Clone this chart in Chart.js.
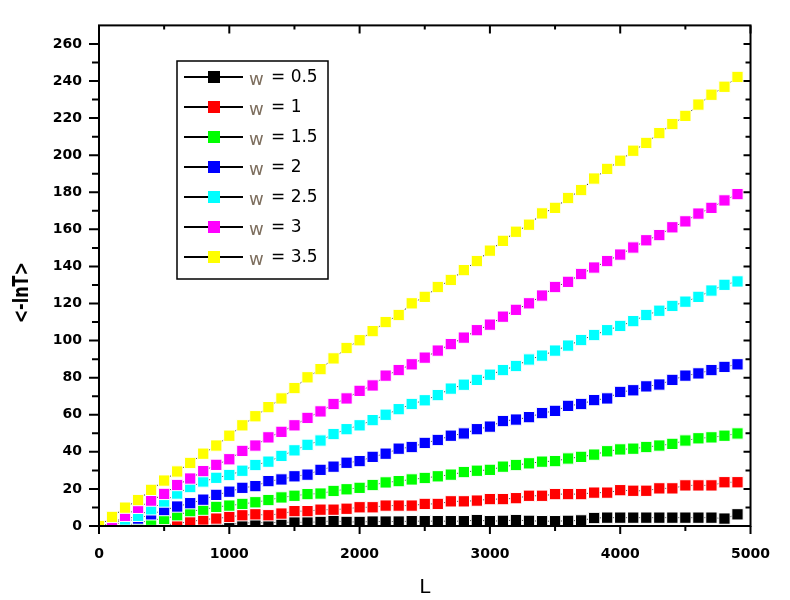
<!DOCTYPE html>
<html>
<head>
<meta charset="utf-8">
<script src="https://cdn.jsdelivr.net/npm/chart.js@4.4.0/dist/chart.umd.min.js"></script>
<style>
  html, body { margin: 0; padding: 0; background: #fff; }
  #wrap { width: 790px; height: 600px; }
</style>
</head>
<body>
<div id="wrap"><canvas id="lnT" width="790" height="600"></canvas></div>
<script>
// system size L
var L = [0, 100, 200, 300, 400, 500, 600, 700, 800, 900,
         1000, 1100, 1200, 1300, 1400, 1500, 1600, 1700, 1800, 1900,
         2000, 2100, 2200, 2300, 2400, 2500, 2600, 2700, 2800, 2900,
         3000, 3100, 3200, 3300, 3400, 3500, 3600, 3700, 3800, 3900,
         4000, 4100, 4200, 4300, 4400, 4500, 4600, 4700, 4800, 4900];

// <-lnT> for each disorder strength w
var w05 = [0, 0, 0, 0, 0, 0, 0, 0, 0, 0.3,
           0.8, 1.6, 1.8, 1.8, 2.0, 2.0, 2.0, 2.2, 2.8, 2.2,
           2.2, 2.4, 2.4, 2.4, 2.6, 2.6, 2.6, 2.6, 2.6, 3.2,
           2.6, 2.8, 3.2, 2.8, 2.6, 2.6, 2.8, 3.0, 4.3, 4.5,
           4.5, 4.5, 4.5, 4.5, 4.5, 4.5, 4.5, 4.5, 4.0, 6.3];
var w1 = [0, 0, 0, 0, 0, 0.5, 1.4, 2.3, 3.5, 4.0,
          4.9, 5.8, 6.3, 5.8, 6.7, 8.0, 8.0, 8.8, 8.8, 9.3,
          10.1, 10.1, 11.0, 11.0, 11.0, 11.9, 11.9, 13.3, 13.3, 13.7,
          14.5, 14.5, 15.0, 16.3, 16.3, 17.2, 17.2, 17.2, 18.0, 18.0,
          19.3, 19.0, 19.0, 20.3, 20.3, 21.9, 21.9, 21.9, 23.6, 23.6];
var w15 = [0, 0, 0.5, 1.4, 3.4, 3.8, 5.8, 8.0, 8.8, 10.3,
           11.0, 11.9, 12.8, 14.0, 15.4, 16.3, 17.2, 17.5, 18.9, 19.8,
           20.6, 22.1, 23.5, 24.2, 25.1, 25.9, 26.8, 27.7, 29.1, 29.8,
           30.3, 32.0, 32.9, 33.8, 34.7, 35.0, 36.4, 37.3, 38.5, 40.3,
           41.3, 41.7, 42.6, 43.4, 44.3, 46.1, 47.3, 47.8, 48.7, 49.9];
var w2 = [0, 0.5, 2.4, 4.0, 6.3, 8.6, 10.5, 12.3, 14.2, 16.8,
          18.5, 20.6, 21.5, 24.2, 25.1, 26.8, 27.7, 30.3, 32.0, 34.1,
          35.0, 37.3, 39.0, 41.7, 42.6, 44.8, 46.4, 48.7, 49.9, 52.2,
          53.6, 56.6, 57.4, 58.7, 60.9, 62.1, 64.8, 65.8, 67.9, 68.8,
          72.3, 73.2, 75.3, 76.3, 78.8, 81.1, 82.3, 84.1, 85.8, 87.2];
var w25 = [0, 1.5, 3.5, 5.5, 9.0, 13.2, 17.5, 21.0, 24.0, 26.0,
           27.5, 29.8, 32.9, 34.7, 37.8, 40.8, 43.8, 46.1, 49.6, 52.2,
           54.3, 57.1, 60.0, 63.0, 65.8, 67.8, 70.6, 74.1, 76.2, 78.8,
           81.6, 84.1, 86.3, 89.8, 91.9, 94.6, 97.3, 100.3, 103.0, 105.6,
           107.9, 110.5, 113.8, 116.1, 118.7, 121.0, 123.6, 127.0, 130.1, 131.9];
var w3 = [0, 1.0, 5.5, 9.8, 13.7, 17.3, 22.1, 25.6, 29.6, 33.0,
          36.0, 40.5, 43.4, 47.8, 50.8, 54.3, 58.3, 61.8, 65.8, 68.8,
          72.9, 75.8, 81.1, 84.1, 87.2, 90.8, 94.6, 98.1, 101.6, 105.6,
          108.6, 112.9, 116.6, 120.1, 124.3, 128.9, 131.7, 135.9, 139.4, 142.9,
          146.4, 150.2, 154.1, 156.9, 161.1, 164.3, 168.5, 171.6, 175.6, 179.0];
var w35 = [0, 4.9, 9.9, 14.0, 19.5, 24.5, 29.4, 34.0, 39.0, 43.4,
           48.7, 54.3, 59.2, 64.1, 68.8, 74.4, 80.2, 84.6, 90.4, 96.0,
           100.2, 105.1, 110.0, 113.8, 120.1, 123.6, 128.9, 132.7, 138.0, 142.9,
           148.5, 153.8, 158.7, 162.5, 168.6, 171.6, 176.9, 181.2, 187.4, 192.6,
           197.0, 202.4, 206.6, 211.9, 216.8, 221.2, 227.3, 232.6, 236.9, 242.2];

var seriesLabels = ['w = 0.5', 'w = 1', 'w = 1.5', 'w = 2', 'w = 2.5', 'w = 3', 'w = 3.5'];
var seriesValues = [w05, w1, w15, w2, w25, w3, w35];
var seriesColors = ['#000000', '#ff0000', '#00ff00', '#0000ff', '#00ffff', '#ff00ff', '#ffff00'];

var xTickValues = [0, 1000, 2000, 3000, 4000, 5000];
var yTickValues = [0, 20, 40, 60, 80, 100, 120, 140, 160, 180, 200, 220, 240, 260];

var tickFont = { family: '"DejaVu Sans"', size: 14, weight: 'bold' };

var datasets = seriesValues.map(function (vals, i) {
  return {
    label: seriesLabels[i],
    data: L.map(function (x, k) { return { x: x, y: vals[k] }; }),
    borderColor: '#000',
    borderWidth: 1,
    pointStyle: 'rect',
    pointRadius: 8,
    pointBackgroundColor: seriesColors[i],
    pointBorderColor: '#fff',
    pointBorderWidth: 1,
    clip: 0,
    order: seriesValues.length - i   // higher w drawn on top
  };
});

// box frame with major/minor ticks on all four sides, plus the rotated y title
var frameAndTicks = {
  id: 'frameAndTicks',
  afterDraw: function (chart) {
    var ctx = chart.ctx, a = chart.chartArea;
    var xs = chart.scales.x, ys = chart.scales.y;
    ctx.save();
    ctx.strokeStyle = '#000';
    ctx.lineWidth = 2;
    ctx.strokeRect(a.left, a.top, a.right - a.left, a.bottom - a.top);

    ctx.beginPath();
    xTickValues.forEach(function (v, i) {
      var px = xs.getPixelForValue(v);
      ctx.moveTo(px, a.bottom); ctx.lineTo(px, a.bottom + 8);
      ctx.moveTo(px, a.top); ctx.lineTo(px, a.top + 8);
      if (i < xTickValues.length - 1) {
        var m = xs.getPixelForValue((v + xTickValues[i + 1]) / 2);
        ctx.moveTo(m, a.bottom); ctx.lineTo(m, a.bottom + 5);
        ctx.moveTo(m, a.top); ctx.lineTo(m, a.top + 4);
      }
    });
    yTickValues.forEach(function (v, i) {
      var py = ys.getPixelForValue(v);
      ctx.moveTo(a.left, py); ctx.lineTo(a.left - 10, py);
      ctx.moveTo(a.right, py); ctx.lineTo(a.right - 7, py);
      var next = i < yTickValues.length - 1 ? yTickValues[i + 1] : v + 20;
      var m = ys.getPixelForValue((v + next) / 2);
      if (m > a.top + 2) {
        ctx.moveTo(a.left, m); ctx.lineTo(a.left - 7, m);
        ctx.moveTo(a.right, m); ctx.lineTo(a.right - 5, m);
      }
    });
    ctx.stroke();

    // y axis title
    ctx.translate(23, (a.top + a.bottom) / 2 + 17);
    ctx.scale(1.3, 1);
    ctx.rotate(-Math.PI / 2);
    ctx.fillStyle = '#000';
    ctx.font = 'bold 16px "DejaVu Sans"';
    ctx.textAlign = 'center';
    ctx.textBaseline = 'middle';
    ctx.fillText('<-lnT>', 0, 0);
    ctx.restore();
  }
};

// legend box drawn inside the plot area
var insideLegend = {
  id: 'insideLegend',
  afterDraw: function (chart) {
    var ctx = chart.ctx;
    var left = 177, top = 61, right = 328, bottom = 279;
    ctx.save();
    ctx.fillStyle = '#fff';
    ctx.fillRect(left, top, right - left, bottom - top);
    ctx.strokeStyle = '#000';
    ctx.lineWidth = 1.5;
    ctx.strokeRect(left, top, right - left, bottom - top);

    chart.data.datasets.forEach(function (ds, i) {
      var y = 77 + i * 30;
      ctx.beginPath();
      ctx.moveTo(184, y);
      ctx.lineTo(243, y);
      ctx.lineWidth = 2;
      ctx.strokeStyle = '#000';
      ctx.stroke();
      ctx.fillStyle = ds.pointBackgroundColor;
      ctx.fillRect(208, y - 6, 12, 12);

      var parts = ds.label.split(' ');
      ctx.textBaseline = 'alphabetic';
      ctx.font = '18px "DejaVu Sans"';
      ctx.fillStyle = '#7d6e5e';
      ctx.fillText(parts[0], 249, y + 8);
      ctx.font = '17px "DejaVu Sans"';
      ctx.fillStyle = '#000';
      ctx.fillText(parts.slice(1).join(' '), 271, y + 5);
    });
    ctx.restore();
  }
};

function plainNumber(value) { return String(value); }

new Chart(document.getElementById('lnT').getContext('2d'), {
  type: 'line',
  data: { datasets: datasets },
  options: {
    responsive: false,
    animation: false,
    events: [],
    layout: { padding: { top: 10, right: 25, bottom: 0, left: 0 } },
    plugins: {
      legend: { display: false },
      tooltip: { enabled: false }
    },
    scales: {
      x: {
        type: 'linear',
        min: 0,
        max: 5000,
        grid: { display: false, drawTicks: false },
        border: { display: false },
        afterBuildTicks: function (s) { s.ticks = xTickValues.map(function (v) { return { value: v }; }); },
        afterFit: function (s) { s.height = 74; },
        ticks: { color: '#000', font: tickFont, padding: 20, maxRotation: 0, autoSkip: false, callback: plainNumber },
        title: {
          display: true,
          text: 'L',
          color: '#000',
          font: { family: '"DejaVu Sans"', size: 20 },
          padding: { top: 0, bottom: 0 }
        }
      },
      y: {
        type: 'linear',
        min: 0,
        max: 270,
        grid: { display: false, drawTicks: false },
        border: { display: false },
        afterBuildTicks: function (s) { s.ticks = yTickValues.map(function (v) { return { value: v }; }); },
        afterFit: function (s) { s.width = 99; },
        ticks: { color: '#000', font: tickFont, padding: 17, autoSkip: false, callback: plainNumber }
      }
    }
  },
  plugins: [frameAndTicks, insideLegend]
});
</script>
</body>
</html>
